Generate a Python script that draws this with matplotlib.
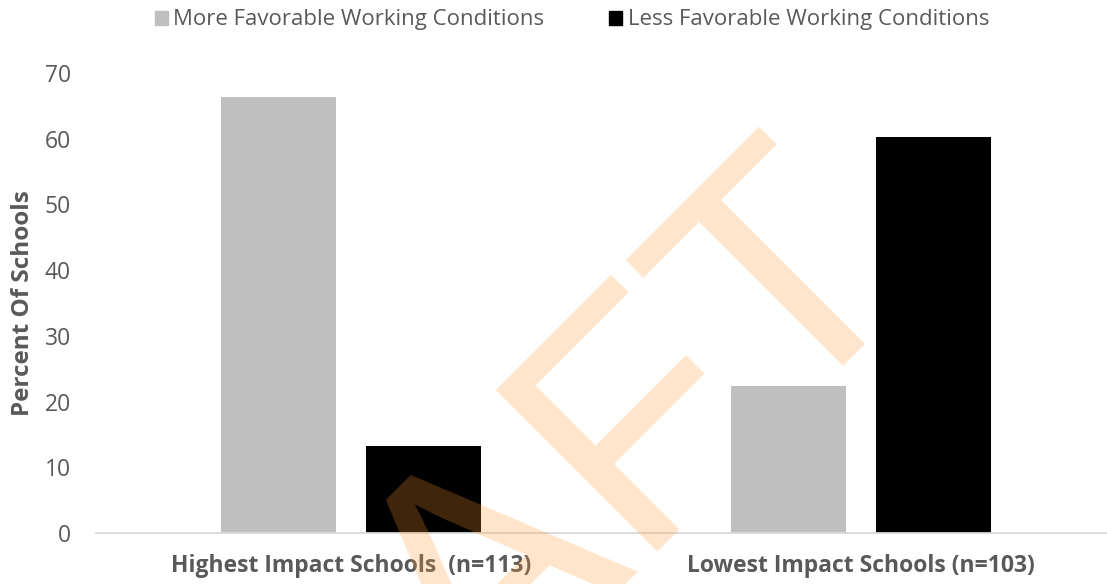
import matplotlib.pyplot as plt
import numpy as np
from matplotlib.patches import Patch

plt.rcParams['font.family'] = ['Open Sans', 'DejaVu Sans']

categories = ['Highest Impact Schools  (n=113)', 'Lowest Impact Schools (n=103)']
series_names = ['More Favorable Working Conditions', 'Less Favorable Working Conditions']
more_favorable = [66.4, 22.4]
less_favorable = [13.3, 60.2]
y_ticks = [0, 10, 20, 30, 40, 50, 60, 70]

gray = '#BFBFBF'
text_col = '#595959'

W, H = 1107, 584
fig = plt.figure(figsize=(W / 100, H / 100), dpi=100)
ax = fig.add_axes([96 / W, (H - 533) / H, 1020 / W, 460 / H])

x = np.arange(len(categories))
bw = 0.225
off = 0.1425
ax.bar(x - off, more_favorable, bw, color=gray, zorder=2)
ax.bar(x + off, less_favorable, bw, color='black', zorder=2)

ax.set_xlim(-0.5, 1.5)
ax.set_ylim(0, 70)
ax.set_yticks(y_ticks)
ax.set_xticks(x)
ax.set_xticklabels(categories, fontsize=16.5, fontweight='bold', color=text_col)
ax.tick_params(axis='x', length=0, pad=15)
ax.tick_params(axis='y', length=0, pad=18, labelsize=16.5, labelcolor=text_col)
for s in ['top', 'right', 'left']:
    ax.spines[s].set_visible(False)
ax.spines['bottom'].set_color('#D9D9D9')
ax.spines['bottom'].set_linewidth(1.3)

ax.set_ylabel('Percent Of Schools', fontsize=17.5, fontweight='bold', color=text_col, labelpad=7)

handles = [Patch(color=gray), Patch(color='black')]
fig.legend(handles, series_names, loc='center', bbox_to_anchor=(572 / W, 1 - 20 / H),
           ncol=2, frameon=False, fontsize=16, labelcolor=text_col,
           handlelength=0.6, handleheight=0.6, handletextpad=0.25, columnspacing=2.9)

# DRAFT watermark
fig.text(919 / W, 1 - 263 / H, 'DRAFT', fontsize=240, family='Liberation Sans',
         color='#FF9933', alpha=0.25, rotation=45, rotation_mode='anchor',
         ha='right', va='baseline', zorder=10)

fig.savefig('out.png', dpi=100)
